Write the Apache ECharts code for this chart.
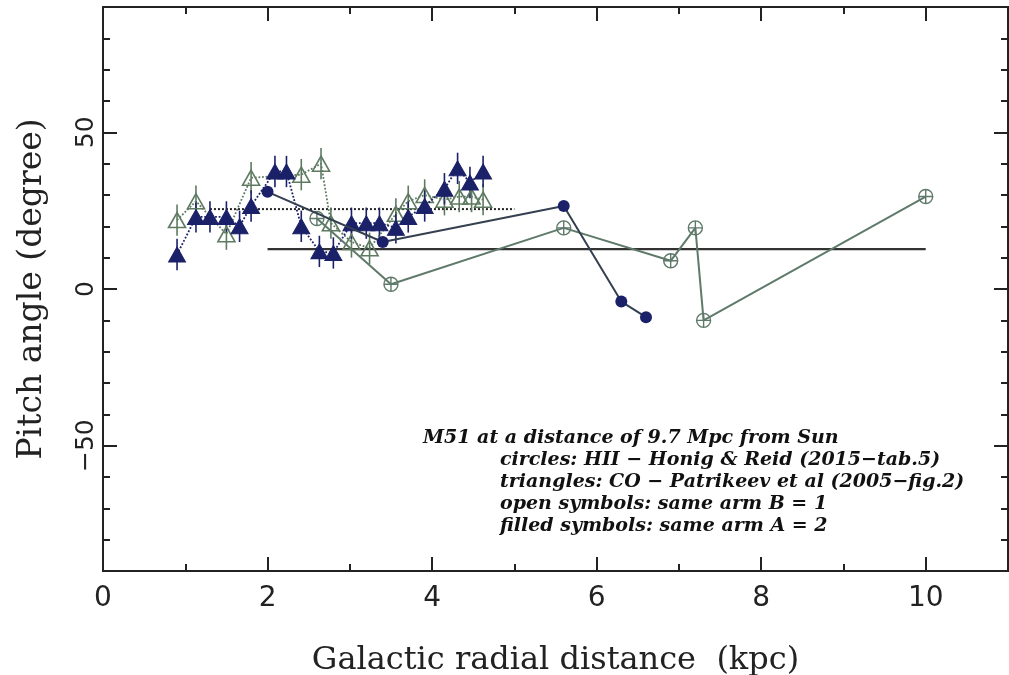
<!DOCTYPE html>
<html>
<head>
<meta charset="utf-8">
<title>M51 pitch angle vs galactic radius</title>
<script src="https://cdn.jsdelivr.net/npm/echarts@6/dist/echarts.min.js"></script>
<style>
  html, body { margin: 0; padding: 0; background: #fff; }
  #chart { width: 1009px; height: 675px; }
</style>
</head>
<body>
<div id="chart"></div>
<script>
// CO pitch angles (Patrikeev et al. 2005), [radius kpc, pitch deg]
const coArmA = [[0.9, 11], [1.13, 23], [1.3, 23], [1.5, 23], [1.66, 20], [1.8, 26.5],
  [2.09, 37.5], [2.23, 37.5], [2.41, 20], [2.63, 12], [2.8, 11.5], [3.02, 21], [3.2, 21],
  [3.36, 21], [3.56, 19.5], [3.71, 23], [3.91, 26.5], [4.15, 32], [4.31, 38.5], [4.46, 34],
  [4.62, 37.5]];
const coArmB = [[0.9, 22], [1.13, 28], [1.5, 17.5], [1.8, 35.5], [2.41, 36.5], [2.65, 40],
  [2.77, 21], [3.02, 15], [3.24, 13], [3.56, 24], [3.71, 28], [3.91, 30], [4.15, 28.5],
  [4.33, 29.5], [4.48, 29.5], [4.62, 28.5]];
const coError = 5; // half-length of the CO error bars, degrees

// HII region pitch angles (Honig & Reid 2015, tab. 5)
const hiiArmA = [[2.0, 31], [3.4, 15], [5.6, 26.5], [6.3, -4], [6.6, -9]];
const hiiArmB = [[2.6, 22.5], [3.5, 1.5], [5.6, 19.5], [6.9, 9], [7.2, 19.5], [7.3, -10], [10.0, 29.5]];

// Mean levels
const hiiMean = [[2.0, 12.7], [10.0, 12.7]];
const coMean = [[1.3, 25.5], [5.0, 25.5]];

// Axis ticks
const xMajor = [0, 2, 4, 6, 8, 10];
const xMinor = [1, 3, 5, 7, 9];
const yMajor = [-50, 0, 50];
const yMinor = [-80, -70, -60, -40, -30, -20, -10, 10, 20, 30, 40, 60, 70, 80];

const note = [
  'M51 at a distance of 9.7 Mpc from Sun',
  'circles: HII \u2212 Honig & Reid (2015\u2212tab.5)',
  'triangles: CO \u2212 Patrikeev et al (2005\u2212fig.2)',
  'open symbols: same arm B = 1',
  'filled symbols: same arm A = 2'
];

const NAVY = '#1b2168';
const SAGE = '#5e7b62';
const INK = '#222';

const circlePlus = 'path://M0,-10A10,10,0,1,1,0,10A10,10,0,1,1,0,-10Z M0,-10L0,10 M-10,0L10,0';

function minus(v) { return String(v).replace('-', '\u2212'); }

function errorBars(points, color) {
  return {
    type: 'custom',
    xAxisIndex: 0, yAxisIndex: 0,
    data: points.map(p => [p[0], p[1], coError]),
    renderItem: function (params, api) {
      const x = api.value(0), y = api.value(1), e = api.value(2);
      const a = api.coord([x, y + e]);
      const b = api.coord([x, y - e]);
      return {
        type: 'line',
        shape: { x1: a[0], y1: a[1], x2: b[0], y2: b[1] },
        style: { stroke: color, lineWidth: 1.6 }
      };
    },
    silent: true,
    z: 3
  };
}

function xAx(position, ticks, len, labels) {
  return {
    type: 'value', position: position, min: 0, max: 11, interval: 1,
    splitLine: { show: false },
    axisLine: { show: true, onZero: false, lineStyle: { color: INK, width: 2 } },
    axisTick: { show: true, inside: true, length: len, customValues: ticks, lineStyle: { color: INK, width: 2 } },
    axisLabel: labels ? {
      show: true, customValues: xMajor, margin: 14, fontSize: 28,
      fontFamily: 'DejaVu Sans', color: INK
    } : { show: false },
    name: labels ? 'Galactic radial distance  (kpc)' : '',
    nameLocation: 'middle', nameGap: 74,
    nameTextStyle: { fontFamily: 'DejaVu Serif', fontSize: 32, color: INK }
  };
}

function yAx(position, ticks, len, labels) {
  return {
    type: 'value', position: position, min: -90, max: 90, interval: 10,
    splitLine: { show: false },
    axisLine: { show: true, onZero: false, lineStyle: { color: INK, width: 2 } },
    axisTick: { show: true, inside: true, length: len, customValues: ticks, lineStyle: { color: INK, width: 2 } },
    axisLabel: labels ? {
      show: true, customValues: yMajor, rotate: 90, margin: 4, fontSize: 25,
      fontFamily: 'DejaVu Sans', color: INK, formatter: minus
    } : { show: false },
    name: labels ? 'Pitch angle (degree)' : '',
    nameLocation: 'middle', nameGap: 54, nameRotate: 90,
    nameTextStyle: { fontFamily: 'DejaVu Serif', fontSize: 33, color: INK }
  };
}

const chart = echarts.init(document.getElementById('chart'), null, { renderer: 'canvas' });

chart.setOption({
  animation: false,
  backgroundColor: '#fff',
  grid: { left: 103, right: 1, top: 7, bottom: 104, containLabel: false, outerBoundsMode: 'none' },
  xAxis: [
    xAx('bottom', xMajor, 14, true),
    xAx('bottom', xMinor, 7, false),
    xAx('top', xMajor, 14, false),
    xAx('top', xMinor, 7, false)
  ],
  yAxis: [
    yAx('left', yMajor, 14, true),
    yAx('left', yMinor, 7, false),
    yAx('right', yMajor, 14, false),
    yAx('right', yMinor, 7, false)
  ],
  series: [
    {
      name: 'HII mean', type: 'line', data: hiiMean, symbol: 'none',
      lineStyle: { color: '#333', width: 2.2 }, z: 1
    },
    {
      name: 'CO mean', type: 'line', data: coMean, symbol: 'none',
      lineStyle: { color: INK, width: 2, type: 'dotted' }, z: 1
    },
    errorBars(coArmB, SAGE),
    {
      name: 'CO arm B', type: 'line', data: coArmB,
      symbol: 'triangle', symbolSize: [17, 15],
      lineStyle: { color: SAGE, width: 1.8, type: 'dotted' },
      itemStyle: { color: 'rgba(255,255,255,0)', borderColor: SAGE, borderWidth: 1.6 },
      z: 4
    },
    errorBars(coArmA, NAVY),
    {
      name: 'CO arm A', type: 'line', data: coArmA,
      symbol: 'triangle', symbolSize: [17, 15],
      lineStyle: { color: NAVY, width: 1.8, type: 'dotted' },
      itemStyle: { color: NAVY, borderColor: NAVY, borderWidth: 1 },
      z: 5
    },
    {
      name: 'HII arm B', type: 'line', data: hiiArmB,
      symbol: circlePlus, symbolSize: 14,
      lineStyle: { color: '#5f7a6a', width: 2 },
      itemStyle: { color: 'rgba(255,255,255,0)', borderColor: '#5f7a6a', borderWidth: 1.4 },
      z: 6
    },
    {
      name: 'HII arm A', type: 'line', data: hiiArmA,
      symbol: 'circle', symbolSize: 12,
      lineStyle: { color: '#34404f', width: 2 },
      itemStyle: { color: NAVY, borderColor: NAVY, borderWidth: 0 },
      z: 7
    }
  ],
  graphic: note.map((t, i) => ({
    type: 'text',
    x: i === 0 ? 423 : 500,
    y: 438 + i * 22,
    style: {
      text: t,
      font: 'italic bold 19px "DejaVu Serif"',
      fill: '#111',
      verticalAlign: 'middle'
    },
    z: 10
  }))
});
</script>
</body>
</html>
